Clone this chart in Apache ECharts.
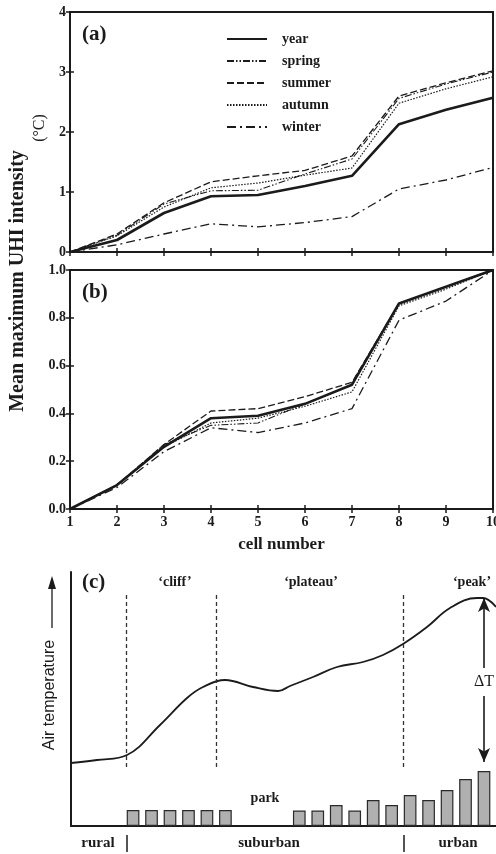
<!DOCTYPE html>
<html><head><meta charset="utf-8">
<script src="https://cdn.jsdelivr.net/npm/echarts@6/dist/echarts.min.js"></script>
<style>html,body{margin:0;padding:0;background:#fff}#c{width:496px;height:854px}</style>
</head><body><div id="c"></div>
<script>
// ---- data ----
const cells = [1,2,3,4,5,6,7,8,9,10];
const seriesNames = ['year','spring','summer','autumn','winter'];
// panel (a): mean maximum UHI intensity (°C)
const yearA   = [0, 0.20, 0.65, 0.93, 0.95, 1.10, 1.27, 2.13, 2.37, 2.57];
const springA = [0, 0.28, 0.80, 1.02, 1.03, 1.30, 1.55, 2.56, 2.80, 3.00];
const summerA = [0, 0.30, 0.82, 1.17, 1.27, 1.36, 1.60, 2.60, 2.82, 3.02];
const autumnA = [0, 0.27, 0.75, 1.07, 1.15, 1.28, 1.40, 2.48, 2.72, 2.92];
const winterA = [0, 0.12, 0.30, 0.47, 0.42, 0.49, 0.59, 1.05, 1.20, 1.41];
// panel (b): normalised intensity
const yearB   = [0, 0.10, 0.26, 0.38, 0.39, 0.44, 0.52, 0.86, 0.93, 1.00];
const springB = [0, 0.10, 0.27, 0.35, 0.36, 0.44, 0.52, 0.86, 0.93, 1.00];
const summerB = [0, 0.10, 0.27, 0.41, 0.42, 0.47, 0.53, 0.86, 0.93, 1.00];
const autumnB = [0, 0.10, 0.26, 0.36, 0.38, 0.43, 0.49, 0.85, 0.92, 1.00];
const winterB = [0, 0.09, 0.24, 0.34, 0.32, 0.36, 0.42, 0.79, 0.87, 1.00];
const yTicksA = [0,1,2,3,4];
const yTicksB = [0.0,0.2,0.4,0.6,0.8,1.0];
// panel (c): schematic air temperature profile (arbitrary units)
const profileX = [0, 26, 56, 89, 116, 132, 154, 182, 207, 219, 242, 266, 292, 312, 332, 356, 379, 406, 412, 425];
const profileY = [63, 66, 71, 101, 128, 139, 146, 139, 135, 140, 149, 159, 164, 171, 182, 199, 218, 228, 228, 219];
const zoneBounds = [55.7, 145, 332.3];
const peakX = 413, peakY = 228, deltaBase = 64;
const barCells = [1,2,3,4,5,6,7,8,9,10,11,12,13,14,15,16,17,18,19,20];
const barHeights = [16,16,16,16,16,16,null,null,null,15.5,15.5,21,15.5,26,21,31,26,36,47,55];

// ---- styles ----
const INK = '#1b1b1b';
const SERIF = '"Liberation Serif","DejaVu Serif",serif';
const styles = {
  year:   {width: 2.6, type: 'solid'},
  spring: {width: 1.1, type: [7,2,1.5,2,1.5,2]},
  summer: {width: 1.3, type: [7,3]},
  autumn: {width: 1.2, type: [1.5,1.5]},
  winter: {width: 1.3, type: [9,4,2,4]}
};
const dataA = {year: yearA, spring: springA, summer: summerA, autumn: autumnA, winter: winterA};
const dataB = {year: yearB, spring: springB, summer: summerB, autumn: autumnB, winter: winterB};
const pairs = arr => cells.map((c,i)=>[c, arr[i]]);

const tickLabel = {color: INK, fontFamily: SERIF, fontWeight: 'bold', fontSize: 14};
function mainX(grid, showLabels){
  return {type:'value', gridIndex:grid, min:1, max:10, interval:1,
    axisLine:{show:true, lineStyle:{color:INK, width:2}},
    axisTick:{show:true, inside:false, length:4, lineStyle:{color:INK, width:1.5}},
    axisLabel:{show:showLabels, margin:6, ...tickLabel},
    splitLine:{show:false}};
}
function innerX(grid){
  return {type:'value', gridIndex:grid, min:1, max:10, interval:1, position:'bottom',
    axisLine:{show:false}, axisTick:{show:true, inside:true, length:4, lineStyle:{color:INK, width:1.5}},
    axisLabel:{show:false}, splitLine:{show:false}};
}
function mainY(grid, max, interval, fmt){
  return {type:'value', gridIndex:grid, min:0, max:max, interval:interval,
    axisLine:{show:true, lineStyle:{color:INK, width:2}},
    axisTick:{show:true, inside:false, length:4, lineStyle:{color:INK, width:1.5}},
    axisLabel:{show:true, margin:4, formatter:fmt, ...tickLabel},
    splitLine:{show:false}};
}
function innerY(grid, max, interval){
  return {type:'value', gridIndex:grid, min:0, max:max, interval:interval, position:'left',
    axisLine:{show:false}, axisTick:{show:true, inside:true, length:4, lineStyle:{color:INK, width:1.5}},
    axisLabel:{show:false}, splitLine:{show:false}};
}

const series = [];
seriesNames.forEach(n => {
  series.push({name:n, type:'line', xAxisIndex:0, yAxisIndex:0, data:pairs(dataA[n]),
    symbol:'none', lineStyle:{color:INK, width:styles[n].width, type:styles[n].type}, itemStyle:{color:INK}, z:3});
});
seriesNames.forEach(n => {
  series.push({name:n, type:'line', xAxisIndex:2, yAxisIndex:2, data:pairs(dataB[n]),
    symbol:'none', lineStyle:{color:INK, width:styles[n].width, type:styles[n].type}, itemStyle:{color:INK}, z:3});
});
series.push({name:'profile', type:'line', xAxisIndex:4, yAxisIndex:4,
  data: profileX.map((x,i)=>[x, profileY[i]]), smooth:0.4, symbol:'none',
  lineStyle:{color:INK, width:1.8},
  markLine:{silent:true, symbol:'none', animation:false, label:{show:false},
    data: zoneBounds.map(x => [{coord:[x,59], lineStyle:{type:[4,3], width:1.3, color:'#333'}}, {coord:[x,231]}]).concat([
      [{coord:[peakX,peakY], symbol:'arrow', lineStyle:{type:'solid', width:1.6, color:INK}}, {coord:[peakX,deltaBase], symbol:'arrow'}]
    ]),
    symbolSize:[9,14]
  }
});
series.push({name:'bars', type:'bar', xAxisIndex:5, yAxisIndex:4,
  data: barCells.map((c,i)=>[c, barHeights[i]]), barWidth:12.7,
  itemStyle:{color:'#b0b0b0', borderColor:'#2a2a2a', borderWidth:1.2}, silent:true});

function txt(x,y,text,font,opts,rot){
  return {type:'text', x:x, y:y, rotation:rot||0, silent:true, z:100,
    style:Object.assign({text:text, font:font, fill:INK, align:'center', verticalAlign:'middle',
      textAlign:'center', textVerticalAlign:'middle'}, opts||{})};
}
const R = Math.PI/2;

const option = {
  backgroundColor:'#fff',
  animation:false,
  grid:[
    {left:70, top:12, right:3, height:240, show:true, borderColor:INK, borderWidth:2, backgroundColor:'transparent', outerBoundsMode:'none', containLabel:false},
    {left:70, top:270, right:3, height:239, show:true, borderColor:INK, borderWidth:2, backgroundColor:'transparent', outerBoundsMode:'none', containLabel:false},
    {left:71, top:572, right:0, bottom:28, outerBoundsMode:'none', containLabel:false}
  ],
  legend:{data:seriesNames, orient:'vertical', left:226, top:32, itemWidth:40, itemHeight:14, itemGap:8, padding:0,
    itemStyle:{opacity:0},
    textStyle:{color:INK, fontFamily:SERIF, fontWeight:'bold', fontSize:14, padding:[0,0,0,10]},
    selectedMode:false},
  xAxis:[
    mainX(0,false), innerX(0),
    Object.assign(mainX(1,true), {name:'cell number', nameLocation:'middle', nameGap:27,
      nameTextStyle:{color:INK, fontFamily:SERIF, fontWeight:'bold', fontSize:17}}),
    innerX(1),
    {type:'value', gridIndex:2, min:0, max:425, axisLine:{show:true, lineStyle:{color:INK, width:2}},
      axisTick:{show:false}, axisLabel:{show:false}, splitLine:{show:false}},
    {type:'value', gridIndex:2, min:-2.36, max:20.65, show:false, splitLine:{show:false}}
  ],
  yAxis:[
    mainY(0,4,1,v=>String(v)), innerY(0,4,1),
    mainY(1,1,0.2,v=>v.toFixed(1)), innerY(1,1,0.2),
    {type:'value', gridIndex:2, min:0, max:254, axisLine:{show:true, lineStyle:{color:INK, width:2}},
      axisTick:{show:false}, axisLabel:{show:false}, splitLine:{show:false}}
  ],
  series:series,
  graphic:[
    txt(18, 281, 'Mean maximum UHI intensity', 'bold 20px '+SERIF, null, R),
    txt(40, 128, '(°C)', '16px '+SERIF, null, R),
    txt(82, 35, '(a)', 'bold 21px '+SERIF, {align:'left', textAlign:'left'}),
    txt(82, 293, '(b)', 'bold 21px '+SERIF, {align:'left', textAlign:'left'}),
    txt(82, 583, '(c)', 'bold 21px '+SERIF, {align:'left', textAlign:'left'}),
    txt(175, 582, '\u2018cliff\u2019', 'bold 14px '+SERIF),
    txt(311, 582, '\u2018plateau\u2019', 'bold 14px '+SERIF),
    txt(472, 582, '\u2018peak\u2019', 'bold 14px '+SERIF),
    txt(265, 798, 'park', 'bold 14px '+SERIF),
    txt(484, 682, '\u0394T', '16px '+SERIF, {backgroundColor:'#fff', padding:[6,1]}),
    txt(50, 695, 'Air temperature', '16px "Liberation Sans",Arial,sans-serif', null, R),
    {type:'line', silent:true, shape:{x1:52, y1:628, x2:52, y2:586}, style:{stroke:INK, lineWidth:1.3}},
    {type:'polygon', silent:true, shape:{points:[[52,576],[48,589],[56,589]]}, style:{fill:INK}},
    txt(98, 843, 'rural', 'bold 15px '+SERIF),
    {type:'line', silent:true, shape:{x1:127, y1:835, x2:127, y2:852}, style:{stroke:INK, lineWidth:1.5}},
    txt(269, 843, 'suburban', 'bold 15px '+SERIF),
    {type:'line', silent:true, shape:{x1:404, y1:835, x2:404, y2:852}, style:{stroke:INK, lineWidth:1.5}},
    txt(458, 843, 'urban', 'bold 15px '+SERIF)
  ]
};
if (typeof echarts !== 'undefined') {
  const chart = echarts.init(document.getElementById('c'), null, {renderer:'canvas'});
  chart.setOption(option);
}
</script></body></html>
